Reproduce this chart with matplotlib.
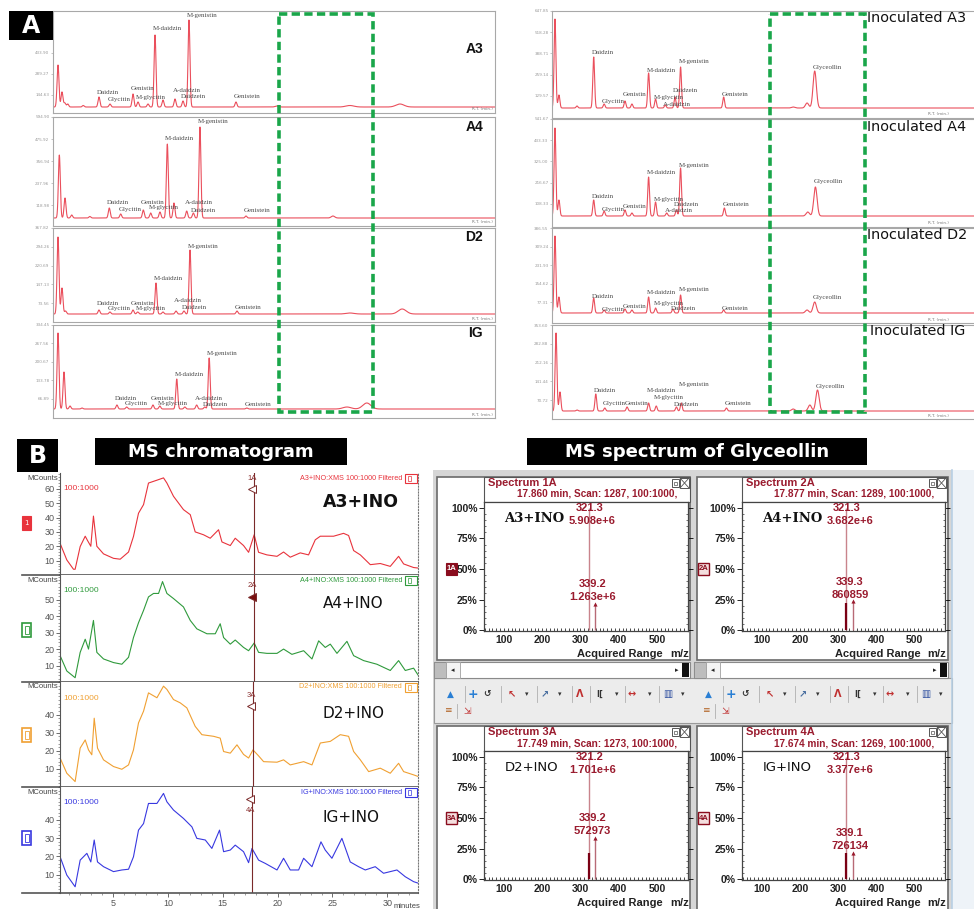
import matplotlib
matplotlib.use('Agg')
import matplotlib.pyplot as plt
import matplotlib.transforms as mtransforms
from matplotlib.patches import Rectangle
from matplotlib.ticker import MultipleLocator
import numpy as np

W, H = 974, 909

# ---------------- A: HPLC chromatograms ----------------
# retention time (min), peak height, peak name ('' = unlabelled)
a3_rt = [0.68, 1.22, 1.6, 2.0, 4.1, 6.24, 7.73, 10.86, 11.54, 12.9, 13.85, 14.93, 16.56, 17.65, 18.46, 24.84, 30.4, 40.3, 47.1]
a3_h = [42, 15, 4, 3, 1.5, 10, 3, 13, 5, 3, 72, 7, 8, 6, 87, 5, 1, 1.5, 3]
a3_name = ['', '', '', '', '', 'Daidzin', 'Glycitin', 'Genistin', 'M-glycitin', '', 'M-daidzin', '', 'A-daidzin',
           'Daidzein', 'M-genistin', 'Genistein', '', '', '']

a4_rt = [0.86, 1.63, 2.54, 5.0, 7.64, 9.19, 12.26, 13.26, 14.52, 15.52, 16.42, 18.15, 19.05, 19.95, 26.2, 38.0]
a4_h = [63, 20, 3, 1.5, 10, 4, 8, 5, 6, 74, 15, 7, 5, 91, 2, 2]
a4_name = ['', '', '', '', 'Daidzin', 'Glycitin', 'Genistin', 'M-glycitin', '', 'M-daidzin', '', 'A-daidzin',
           'Daidzein', 'M-genistin', 'Genistein', '']

d2_rt = [0.68, 1.22, 1.7, 6.24, 7.73, 10.86, 11.5, 13.98, 14.93, 16.69, 17.78, 18.6, 24.97, 40.3, 47.4]
d2_h = [77, 26, 3, 4, 2, 4, 2, 31, 2, 3, 3, 64, 3, 1, 5]
d2_name = ['', '', '', 'Daidzin', 'Glycitin', 'Genistin', 'M-glycitin', 'M-daidzin', '', 'A-daidzin', 'Daidzein',
           'M-genistin', 'Genistein', '', '']

ig_rt = [0.68, 1.49, 2.31, 3.94, 8.68, 10.0, 13.57, 14.5, 16.8, 17.9, 19.5, 20.6, 21.2, 26.3, 39.9, 42.6]
ig_h = [76, 37, 3, 1, 4, 2, 4, 3, 30, 2, 4, 2, 51, 1, 2, 6]
ig_name = ['', '', '', '', 'Daidzin', 'Glycitin', 'Genistin', 'M-glycitin', 'M-daidzin', '', 'A-daidzin',
           'Daidzein', 'M-genistin', 'Genistein', '', '']

ia3_rt = [0.43, 1.0, 3.6, 6.0, 7.5, 10.5, 11.5, 13.9, 14.9, 16.3, 17.7, 18.5, 24.7, 34.7, 36.7, 37.8]
ia3_h = [89, 13, 2, 51, 4, 7, 4, 35, 9, 3, 11, 41, 11, 1, 5, 37]
ia3_name = ['', '', '', 'Daidzin', 'Glycitin', 'Genistin', '', 'M-daidzin', 'M-glycitin', 'A-daidzin', 'Daidzein',
            'M-genistin', 'Genistein', '', '', 'Glyceollin']

ia4_rt = [0.43, 1.0, 6.0, 7.5, 10.5, 11.5, 13.9, 14.9, 16.5, 17.9, 18.5, 24.8, 36.8, 37.9]
ia4_h = [88, 16, 16, 5, 6, 3, 39, 14, 3, 6, 48, 8, 4, 29]
ia4_name = ['', '', 'Daidzin', 'Glycitin', 'Genistin', '', 'M-daidzin', 'M-glycitin', 'A-daidzin', 'Daidzein',
            'M-genistin', 'Genistein', '', 'Glyceollin']

id2_rt = [0.43, 1.0, 6.0, 7.5, 10.5, 11.5, 13.9, 14.9, 17.4, 18.5, 24.7, 36.7, 37.8]
id2_h = [77, 16, 15, 3, 4, 3, 16, 5, 4, 18, 3, 3, 11]
id2_name = ['', '', 'Daidzin', 'Glycitin', 'Genistin', '', 'M-daidzin', 'M-glycitin', 'Daidzein', 'M-genistin',
            'Genistein', '', 'Glyceollin']

iig_rt = [0.58, 1.15, 3.6, 6.3, 7.6, 10.8, 13.9, 15.0, 17.9, 18.6, 25.1, 34.7, 37.1, 38.2]
iig_h = [78, 19, 1, 17, 3, 4, 8, 5, 4, 8, 3, 2, 6, 21]
iig_name = ['', '', '', 'Daidzin', 'Glycitin', 'Genistin', 'M-daidzin', 'M-glycitin', 'Daidzein', 'M-genistin',
            'Genistein', '', '', 'Glyceollin']

hplc_titles = ['A3', 'A4', 'D2', 'IG']
hplc_ytick_labels = [
    ['144.63', '289.27', '433.90'],
    ['118.98', '237.96', '356.94', '475.92', '594.90'],
    ['73.56', '147.13', '220.69', '294.26', '367.82'],
    ['66.89', '133.78', '200.67', '267.56', '334.45'],
]
hplc_ytick_labels_inoc = [
    ['129.57', '259.14', '388.71', '518.28', '647.85'],
    ['108.33', '216.67', '325.00', '433.33', '541.67'],
    ['77.31', '154.62', '231.93', '309.24', '386.55'],
    ['70.72', '141.44', '212.16', '282.88', '353.60'],
]

# ---------------- B: MS chromatograms (MCounts vs minutes) ----------------
ms_a3_t = [0.16, 0.77, 1.38, 1.53, 1.99, 2.45, 2.66, 2.96, 3.20, 3.51, 4.12, 5.03, 5.64, 6.40, 6.85, 7.31, 7.77,
           8.22, 8.99, 9.59, 9.90, 10.50, 11.41, 12.03, 12.48, 13.24, 13.85, 14.61, 14.92, 15.68, 16.13, 16.89,
           17.35, 17.86, 18.26, 19.02, 19.94, 20.54, 21.15, 22.06, 22.82, 23.43, 23.89, 25.10, 26.01, 26.47,
           26.93, 27.54, 28.45, 29.36, 30.27, 31.03, 31.49, 32.40, 32.86]
ms_a3_v = [22, 10.5, 4, 4, 19.8, 27, 24, 20, 41, 20, 14.7, 11.6, 11, 16, 26.8, 43, 49, 64, 66, 67.6, 64, 54.8,
           45.5, 42, 30, 28, 25.6, 31.5, 23, 20.5, 25.6, 20.5, 15.8, 28, 15.8, 14, 13, 16, 12.4, 15.4, 14, 24.5,
           27, 27, 29, 27.5, 17, 14, 7.2, 8, 6, 13, 7.7, 5.2, 4.8]

ms_a4_t = [0.16, 0.77, 1.53, 1.99, 2.45, 2.75, 3.20, 3.51, 4.12, 5.03, 5.79, 6.40, 6.85, 7.31, 7.77, 8.22, 8.68,
           9.14, 9.50, 9.90, 10.50, 11.41, 12.03, 12.63, 13.55, 14.31, 14.76, 15.07, 15.68, 16.13, 16.89, 17.35,
           17.86, 18.26, 19.02, 19.94, 20.54, 21.30, 22.37, 23.13, 23.74, 24.34, 24.80, 25.41, 26.32, 26.93,
           27.84, 29.05, 30.27, 31.03, 31.64, 32.40, 32.86]
ms_a4_v = [16, 6.7, 2.6, 18, 26, 20, 37.4, 18, 14, 11.8, 10.8, 15, 27, 36, 43.5, 51.7, 53.8, 53.8, 61, 53.8, 50.7,
           45.6, 37.4, 32.3, 29.3, 29.3, 35.4, 27, 23, 25.5, 21, 19, 23.7, 18, 17.4, 17.4, 20, 16.8, 19, 14, 25,
           21, 23, 17.4, 24.7, 16, 13, 10.8, 7, 13, 7, 8.4, 3.7]

ms_d2_t = [0.16, 0.77, 1.53, 1.99, 2.45, 2.75, 3.05, 3.27, 3.57, 4.12, 5.03, 5.79, 6.40, 6.85, 7.31, 7.77, 8.22,
           8.99, 9.59, 9.90, 10.50, 11.11, 11.72, 12.48, 13.09, 14.16, 14.76, 15.07, 15.68, 16.29, 16.89, 17.35,
           17.75, 18.26, 18.72, 19.94, 20.54, 21.15, 22.37, 23.13, 23.89, 24.80, 25.71, 26.47, 26.93, 27.54,
           28.30, 29.36, 30.27, 31.03, 31.49, 32.40, 32.86]
ms_d2_v = [16, 7.6, 3, 21.5, 26, 20.5, 17.8, 38, 21.5, 15, 11.3, 9.8, 12.2, 20.5, 35.4, 41.9, 52, 49.3, 55.7, 53.9,
           48.3, 46.5, 43.7, 33.5, 28.9, 28, 27, 19.6, 18.7, 23.3, 18, 16, 20.5, 17.2, 14, 13.7, 15, 12.2, 14,
           12.2, 24.3, 25.2, 28.9, 28, 19.6, 15, 8.5, 10.4, 7.6, 13.1, 8.5, 6.7, 5.7]

ms_ig_t = [0.16, 0.77, 1.53, 1.99, 2.60, 2.96, 3.27, 3.57, 4.12, 5.03, 5.79, 6.40, 6.85, 7.31, 7.77, 8.22, 8.99,
           9.59, 9.90, 10.50, 11.41, 12.18, 12.63, 13.40, 14.00, 14.70, 15.07, 15.68, 16.13, 16.89, 17.35, 17.66,
           18.26, 18.87, 19.94, 20.54, 21.15, 21.91, 22.37, 23.13, 23.95, 24.34, 24.95, 25.86, 26.62, 27.38,
           27.99, 28.90, 29.66, 30.88, 31.64, 32.40, 32.86]
ms_ig_v = [19.8, 9.8, 3.4, 18, 21.7, 17, 29, 17, 14.4, 11.7, 12.6, 13, 19.8, 34.4, 38, 49, 49, 54.5, 49.9, 45.4,
           40.8, 36.2, 29.9, 29, 24.4, 34.4, 22.6, 23.5, 26.2, 22.6, 16.6, 24.4, 18, 16.2, 12.6, 19, 12.6, 12.6,
           19, 14.4, 28, 23.5, 19, 29.9, 17, 14.4, 12.6, 14.4, 10.8, 12.6, 8.9, 6.2, 5.3]

ms_samples = ['A3+INO', 'A4+INO', 'D2+INO', 'IG+INO']
ms_yticks = [[10, 20, 30, 40, 50, 60], [10, 20, 30, 40, 50], [10, 20, 30, 40], [10, 20, 30, 40]]
ms_xticks = [5, 10, 15, 20, 25, 30]

# ---------------- B: MS spectra of glyceollin ----------------
spec_tags = ['1A', '2A', '3A', '4A']
spec_rt = [17.860, 17.877, 17.749, 17.674]
spec_scan = [1287, 1289, 1273, 1269]
spec_base_mz = [321.3, 321.3, 321.2, 321.3]
spec_base_int = [5.908e6, 3.682e6, 1.701e6, 3.377e6]
spec_frag_mz = [339.2, 339.3, 339.2, 339.1]
spec_frag_int = [1.263e6, 860859, 572973, 726134]
spec_bar_pct = [0, 22, 21, 21]
spec_xticks = [100, 200, 300, 400, 500]
spec_yticks = [0, 25, 50, 75, 100]

# ---------------- layout / style ----------------
HPLC_RED = '#ea4f5c'
LBL_GRAY = '#4a4a4a'
GREEN_BOX = '#1aa64a'
DARK_RED = '#9a1b2e'
NARROW = ['Liberation Sans Narrow', 'Liberation Sans', 'DejaVu Sans']
MS_COLORS = ['#e8333c', '#2f9a3c', '#f0a032', '#3838e0']

# frame top, frame bottom, baseline offset (px)
left_frames = [(11, 113, 6), (117, 226, 8), (228, 322, 8), (325, 418, 9)]
right_frames = [(11, 118, 10), (119, 227, 11), (228, 323, 10), (325, 419, 8)]

left_label_y = [
    {'Daidzin': 15, 'Glycitin': 7, 'Genistin': 19, 'M-glycitin': 10, 'M-daidzin': 78, 'A-daidzin': 17,
     'Daidzein': 11, 'M-genistin': 91, 'Genistein': 10},
    {'Daidzin': 15, 'Glycitin': 9, 'Genistin': 16, 'M-glycitin': 11, 'M-daidzin': 79, 'A-daidzin': 15,
     'Daidzein': 8, 'M-genistin': 96, 'Genistein': 7},
    {'Daidzin': 10, 'Glycitin': 5, 'Genistin': 10, 'M-glycitin': 5, 'M-daidzin': 35, 'A-daidzin': 13,
     'Daidzein': 6, 'M-genistin': 67, 'Genistein': 6},
    {'Daidzin': 11, 'Glycitin': 5, 'Genistin': 11, 'M-glycitin': 5, 'M-daidzin': 34, 'A-daidzin': 11,
     'Daidzein': 5, 'M-genistin': 55, 'Genistein': 5},
]
right_label_y = [
    {'Daidzin': 55, 'Glycitin': 6, 'Genistin': 14, 'M-daidzin': 38, 'M-glycitin': 11, 'A-daidzin': 4,
     'Daidzein': 18, 'M-genistin': 46, 'Genistein': 14, 'Glyceollin': 40},
    {'Daidzin': 19, 'Glycitin': 7, 'Genistin': 10, 'M-daidzin': 43, 'M-glycitin': 17, 'A-daidzin': 5,
     'Daidzein': 11, 'M-genistin': 51, 'Genistein': 12, 'Glyceollin': 34},
    {'Daidzin': 17, 'Glycitin': 4, 'Genistin': 6, 'M-daidzin': 20, 'M-glycitin': 10, 'Daidzein': 5,
     'M-genistin': 23, 'Genistein': 4, 'Glyceollin': 15},
    {'Daidzin': 21, 'Glycitin': 8, 'Genistin': 8, 'M-daidzin': 21, 'M-glycitin': 14, 'Daidzein': 7,
     'M-genistin': 27, 'Genistein': 8, 'Glyceollin': 25},
]


def px_rect(x0, y0, x1, y1):
    return [x0 / W, 1 - y1 / H, (x1 - x0) / W, (y1 - y0) / H]


def hplc_curve(rt, h, grid):
    y = np.zeros_like(grid)
    for t0, h0 in zip(rt, h):
        s = 0.13 if t0 < 30 else (0.24 if t0 < 39 else 0.55)
        y += h0 * np.exp(-0.5 * ((grid - t0) / s) ** 2)
    return y


def fmt_int(v):
    if v >= 1e6:
        m, e = f'{v:.3e}'.split('e')
        return f'{m}e+{int(e)}'
    return f'{int(v)}'


fig = plt.figure(figsize=(W / 100, H / 100), dpi=100)
bg = fig.add_axes([0, 0, 1, 1], zorder=0)
bg.set_xlim(0, W)
bg.set_ylim(H, 0)
bg.axis('off')
top = fig.add_axes([0, 0, 1, 1], zorder=30)
top.set_xlim(0, W)
top.set_ylim(H, 0)
top.axis('off')


def draw_hplc(x0, x1, frame, xmax, rt, h, names, label_y, tick_labels, rt_text_x):
    y0, y1, base = frame
    ax = fig.add_axes(px_rect(x0, y0, x1, y1), zorder=2)
    grid = np.linspace(0, xmax, 4000)
    ax.plot(grid, hplc_curve(rt, h, grid), color=HPLC_RED, lw=0.8)
    ax.set_xlim(0, xmax)
    ytop = (y1 - y0) - base
    ax.set_ylim(-base, ytop)
    for t, nm in zip(rt, names):
        if nm:
            ax.text(t - 0.3, label_y[nm], nm, fontsize=5.0, family='Liberation Serif', color=LBL_GRAY,
                    ha='left', va='center')
    fracs = (0.125, 0.344, 0.563, 0.781, 1.0)[:len(tick_labels)]
    ax.set_yticks([ytop * f for f in fracs])
    ax.set_yticklabels(tick_labels, fontsize=3.0, color='#8a8a8a')
    ax.tick_params(axis='y', length=1.5, width=0.4, colors='#9a9a9a', pad=1)
    ax.set_xticks([])
    for sp in ax.spines.values():
        sp.set_color('#a8a8a8')
        sp.set_linewidth(0.8)
    ax.text(rt_text_x, 0.015, 'R.T. (min.)', transform=ax.transAxes, ha='right', va='bottom',
            fontsize=3.0, color='#777777')
    return ax


left_sets = [(a3_rt, a3_h, a3_name), (a4_rt, a4_h, a4_name), (d2_rt, d2_h, d2_name), (ig_rt, ig_h, ig_name)]
right_sets = [(ia3_rt, ia3_h, ia3_name), (ia4_rt, ia4_h, ia4_name), (id2_rt, id2_h, id2_name),
              (iig_rt, iig_h, iig_name)]

for i in range(4):
    rt, h, nm = left_sets[i]
    draw_hplc(53, 495, left_frames[i], 60.0, rt, h, nm, left_label_y[i], hplc_ytick_labels[i], 0.995)
    rt, h, nm = right_sets[i]
    draw_hplc(552, 990, right_frames[i], (990 - 552) / 6.95, rt, h, nm, right_label_y[i],
              hplc_ytick_labels_inoc[i], 0.905)

title_y_left = [49, 127, 237, 333]
title_y_right = [18, 127, 235, 331]
for i, name in enumerate(hplc_titles):
    top.text(483, title_y_left[i], name, ha='right', va='center', fontsize=10, fontweight='bold',
             family='Liberation Sans', color='#111111')
    top.text(867 if name != 'IG' else 870, title_y_right[i], 'Inoculated ' + name, ha='left', va='center',
             fontsize=10.4, family='DejaVu Sans', color='#111111')

# dashed green windows around the glyceollin region
for bx0, bx1 in ((279, 373), (770, 865)):
    top.add_patch(Rectangle((bx0, 14), bx1 - bx0, 398, fill=False, edgecolor=GREEN_BOX, lw=2.6,
                            linestyle=(0, (2.3, 1.2))))

# panel letters and section titles
top.add_patch(Rectangle((9, 11), 44, 29, facecolor='black', edgecolor='none'))
top.text(31, 26, 'A', color='white', fontsize=17, fontweight='bold', ha='center', va='center',
         family='DejaVu Sans')
top.add_patch(Rectangle((17, 439), 41, 33, facecolor='black', edgecolor='none'))
top.text(37.5, 456, 'B', color='white', fontsize=17, fontweight='bold', ha='center', va='center',
         family='DejaVu Sans')
top.add_patch(Rectangle((95, 438), 252, 27, facecolor='black', edgecolor='none'))
top.text(221, 452, 'MS chromatogram', color='white', fontsize=13, fontweight='bold', ha='center',
         va='center', family='DejaVu Sans')
top.add_patch(Rectangle((527, 438), 340, 27, facecolor='black', edgecolor='none'))
top.text(697, 452, 'MS spectrum of Glyceollin', color='white', fontsize=13, fontweight='bold',
         ha='center', va='center', family='DejaVu Sans')

# ---------------- B left: MS chromatograms ----------------
ms_rows = [(473, 575, 71), (575, 682, 65), (682, 787, 58), (787, 893, 58)]
ms_sets = [(ms_a3_t, ms_a3_v), (ms_a4_t, ms_a4_v), (ms_d2_t, ms_d2_v), (ms_ig_t, ms_ig_v)]
marker_y = [(0.95, 0.84), (0.90, 0.79), (0.876, 0.77), (0.78, 0.887)]
big_label_y = [502, 603, 713, 817]
box_cy = [523, 630, 735, 838]

for i, (y0, y1, ytop) in enumerate(ms_rows):
    col = MS_COLORS[i]
    t, v = ms_sets[i]
    ax = fig.add_axes(px_rect(60, y0, 418, y1), zorder=2)
    ax.plot(t, v, color=col, lw=0.8)
    ax.set_xlim(0.15, 32.8)
    ax.set_ylim(0, ytop)
    ax.spines['top'].set_visible(False)
    ax.spines['right'].set_linestyle(':')
    ax.spines['right'].set_color('#777777')
    ax.spines['left'].set_color('#555555')
    ax.spines['bottom'].set_color('#555555')
    ax.spines['bottom'].set_linewidth(1.2)
    ax.set_yticks(ms_yticks[i])
    ax.set_yticklabels([str(k) for k in ms_yticks[i]], fontsize=6.5, color='#333333', family=NARROW)
    ax.yaxis.set_minor_locator(MultipleLocator(2))
    ax.tick_params(axis='y', which='major', length=3, width=0.6, colors='#555555', pad=1)
    ax.tick_params(axis='y', which='minor', length=1.5, width=0.4, colors='#555555')
    if i < 3:
        ax.tick_params(axis='x', which='both', bottom=False, labelbottom=False)
    else:
        ax.set_xticks(ms_xticks)
        ax.set_xticklabels([str(k) for k in ms_xticks], fontsize=6.5, color='#333333', family=NARROW)
        ax.xaxis.set_minor_locator(MultipleLocator(1))
        ax.tick_params(axis='x', which='major', length=3, width=0.6, colors='#555555', pad=1)
        ax.tick_params(axis='x', which='minor', length=1.5, width=0.4, colors='#555555')

    # scan marker for the extracted spectrum
    trans = mtransforms.blended_transform_factory(ax.transData, ax.transAxes)
    ax.axvline(spec_rt[i], color='#7a2a2a', lw=0.8)
    ty, my = marker_y[i]
    ax.text(spec_rt[i] - 0.15, ty, spec_tags[i], transform=trans, fontsize=5.5, color='#8a3030',
            ha='center', va='center', family=NARROW)
    filled = (i == 1)
    ax.plot([spec_rt[i] - 0.2], [my], transform=trans, marker='<', ms=5.5,
            mfc='#7a1010' if filled else 'white', mec='#7a2a2a', mew=0.7, clip_on=False)

    ax.text(0.01, 1 - 16 / (y1 - y0), '100:1000', transform=ax.transAxes, fontsize=6, color=col,
            ha='left', va='center', family=NARROW)
    top.text(58, y0 + 5, 'MCounts', fontsize=5.5, color='#444444', ha='right', va='center', family=NARROW)
    top.text(402, y0 + 5, f'{ms_samples[i]}:XMS 100:1000 Filtered', fontsize=5.2, color=col, ha='right',
             va='center', family=NARROW)
    top.add_patch(Rectangle((405, y0 + 1), 12, 9, fill=False, edgecolor=col, lw=0.8))
    top.add_patch(Rectangle((408, y0 + 3), 3, 5, fill=False, edgecolor=col, lw=0.5))

    # channel selector box on the left
    if i == 0:
        top.add_patch(Rectangle((22, box_cy[i] - 7), 9, 14, facecolor=col, edgecolor=col, lw=0.8))
        top.text(26.5, box_cy[i], '1', fontsize=5, color='white', ha='center', va='center')
    else:
        top.add_patch(Rectangle((22, box_cy[i] - 7), 9, 14, facecolor='white', edgecolor=col, lw=1.2))
        top.add_patch(Rectangle((24.5, box_cy[i] - 4), 4, 8, facecolor='none', edgecolor=col, lw=0.6))

    # separator running into the left margin
    bg.plot([22, 60], [y1, y1], color='#555555', lw=1.2)

    weight = 'bold' if i == 0 else 'normal'
    top.text(323, big_label_y[i], ms_samples[i], fontsize=12.5 if i == 0 else 11, fontweight=weight,
             color='#111111', ha='left', va='center', family='DejaVu Sans')

top.text(394, 907, 'minutes', fontsize=5.5, color='#444444', ha='left', va='center', family=NARROW)

# ---------------- B right: spectrum windows ----------------
bg.add_patch(Rectangle((433, 470), 519, 439, facecolor='#d6d6d6', edgecolor='none'))
bg.add_patch(Rectangle((952, 470), 22, 439, facecolor='#eef3f8', edgecolor='none'))
bg.plot([952, 952], [470, 909], color='#b8cfe4', lw=1.2)

win_x = [(437, 690), (697, 948)]
ax_x = [(484, 688), (742, 945)]
tag_x = [446, 698]

# toolbar strip between the two rows of windows
bg.add_patch(Rectangle((434, 678), 518, 45, facecolor='#ececec', edgecolor='#9a9a9a', lw=0.8))
for col in range(2):
    wx = win_x[col][0] - (2 if col else 0)
    y_r1, y_r2 = 694, 711
    icons = [(13, '\u25b2', '#2a7fd4', 6.5), (36, '+', '#2a7fd4', 9), (50, '\u21ba', '#333333', 6.5),
             (75, '\u2196', '#c03030', 7), (90, '\u25be', '#333333', 5), (108, '\u2197', '#4a6fa0', 7),
             (123, '\u25be', '#333333', 5), (143, '\u039b', '#c03030', 7), (163, 'I[', '#333333', 6),
             (180, '\u25be', '#333333', 5), (195, '\u2194', '#c03030', 7), (213, '\u25be', '#333333', 5),
             (231, '\u25a5', '#3050a0', 7), (246, '\u25be', '#333333', 5)]
    for dx, glyph, c, fs in icons:
        top.text(wx + dx, y_r1, glyph, fontsize=fs, color=c, ha='center', va='center', fontweight='bold',
                 family='DejaVu Sans')
    for dx in (28, 64, 100, 135, 153, 188, 222):
        bg.plot([wx + dx, wx + dx], [686, 702], color='#b0b0b0', lw=0.6)
    top.text(wx + 11, y_r2, '\u2261', fontsize=6.5, color='#b06020', ha='center', va='center')
    top.text(wx + 30, y_r2, '\u21f2', fontsize=6.5, color='#c03030', ha='center', va='center')
    bg.plot([wx + 20, wx + 20], [704, 718], color='#b0b0b0', lw=0.6)

for i in range(4):
    col, row = i % 2, i // 2
    dy = 249 * row
    wx0, wx1 = win_x[col]
    ax0, ax1 = ax_x[col]
    head_top = 477 + dy
    ax_top = 502 + dy
    ax_bot = 631 + dy
    win_bot = 660 if row == 0 else 912

    bg.add_patch(Rectangle((wx0, head_top), wx1 - wx0, win_bot - head_top, facecolor='white',
                           edgecolor='#6a6a6a', lw=1.2))
    bg.add_patch(Rectangle((ax0, head_top), ax1 + 2 - ax0, ax_top - head_top, facecolor='white',
                           edgecolor='#555555', lw=0.8))

    ax = fig.add_axes(px_rect(ax0, ax_top, ax1, ax_bot), zorder=3)
    base_mz, frag_mz = spec_base_mz[i], spec_frag_mz[i]
    frag_pct = 100 * spec_frag_int[i] / spec_base_int[i]
    ax.vlines(base_mz, 0, 100, color='#c9848c', lw=1.0)
    if spec_bar_pct[i]:
        ax.vlines(base_mz, 0, spec_bar_pct[i], color='#7a0014', lw=1.6)
    ax.vlines(frag_mz, 0, frag_pct, color='#b86a76', lw=1.0)
    ax.plot([frag_mz], [frag_pct], marker='^', ms=3, color='#9a1b2e', mew=0)
    lab_kw = dict(fontsize=8, color=DARK_RED, fontweight='bold', ha='center', va='center', family=NARROW)
    ax.text(base_mz + 2, 100, f'{base_mz:.1f}', **lab_kw)
    ax.text(base_mz + 10, 89.5, fmt_int(spec_base_int[i]), **lab_kw)
    ax.text(frag_mz - 8, frag_pct + 16, f'{frag_mz:.1f}', **lab_kw)
    ax.text(frag_mz - 8, frag_pct + 5.5, fmt_int(spec_frag_int[i]), **lab_kw)

    ax.set_xlim(48, 581)
    ax.set_ylim(-0.8, 104.9)
    ax.set_xticks(spec_xticks)
    ax.set_xticklabels([str(k) for k in spec_xticks], fontsize=7.5, fontweight='bold', family=NARROW,
                       color='#222222')
    ax.xaxis.set_minor_locator(MultipleLocator(10))
    ax.tick_params(axis='x', which='both', direction='in', length=2.5, width=0.5, pad=3)
    ax.set_yticks(spec_yticks)
    ax.set_yticklabels([f'{k}%' for k in spec_yticks], fontsize=7.5, fontweight='bold', family=NARROW,
                       color='#222222')
    ax.yaxis.set_minor_locator(MultipleLocator(5))
    ax.tick_params(axis='y', which='major', direction='out', length=3.5, width=0.6, pad=1, right=True)
    ax.tick_params(axis='y', which='minor', direction='in', length=1.5, width=0.4, right=True)
    for sp in ax.spines.values():
        sp.set_color('#444444')
        sp.set_linewidth(0.9)

    sample_kw = dict(fontsize=9.5, color='#111111', ha='left', va='center')
    if i < 2:
        ax.text(0.1, 0.87, ms_samples[i], transform=ax.transAxes, fontweight='bold', family='DejaVu Serif',
                **sample_kw)
    else:
        ax.text(0.1, 0.87, ms_samples[i], transform=ax.transAxes, family='DejaVu Sans', **sample_kw)

    top.text(ax0 + 4, head_top + 6, f'Spectrum {spec_tags[i]}', fontsize=8, fontweight='bold',
             color=DARK_RED, ha='left', va='center', family=NARROW)
    top.text(ax1 - 11, head_top + 17, f'{spec_rt[i]:.3f} min, Scan: {spec_scan[i]}, 100:1000,', fontsize=7.2,
             fontweight='bold', color=DARK_RED, ha='right', va='center', family=NARROW)
    top.add_patch(Rectangle((ax1 - 16, head_top + 2), 7, 8, fill=False, edgecolor='#555555', lw=0.7))
    top.add_patch(Rectangle((ax1 - 14, head_top + 4.5), 3, 3, fill=False, edgecolor='#555555', lw=0.5))
    top.add_patch(Rectangle((ax1 - 8, head_top + 1), 9, 10, fill=False, edgecolor='#555555', lw=0.7))
    top.plot([ax1 - 8, ax1 + 1], [head_top + 1, head_top + 11], color='#555555', lw=0.6)
    top.plot([ax1 - 8, ax1 + 1], [head_top + 11, head_top + 1], color='#555555', lw=0.6)

    top.text((ax0 + ax1) / 2 + 34, ax_bot + 23, 'Acquired Range', fontsize=8, fontweight='bold',
             color='#222222', ha='center', va='center', family=NARROW)
    top.text(ax1 - 8, ax_bot + 23, 'm/z', fontsize=8, fontweight='bold', color='#222222', ha='center',
             va='center', family=NARROW)

    # selector tag next to the 50 % mark
    tx = tag_x[col]
    tag_y = ax_bot - 1 - 50 * 1.22
    if i == 0:
        top.add_patch(Rectangle((tx, tag_y - 6), 11, 12, facecolor='#8a0d1e', edgecolor='#8a0d1e', lw=0.8))
        top.text(tx + 5.5, tag_y, spec_tags[i], fontsize=5.5, color='white', fontweight='bold', ha='center',
                 va='center', family=NARROW)
    else:
        top.add_patch(Rectangle((tx, tag_y - 6), 11, 12, facecolor='#f4dede', edgecolor='#8a0d1e', lw=1.0))
        top.text(tx + 5.5, tag_y, spec_tags[i], fontsize=5.5, color='#8a0d1e', fontweight='bold',
                 ha='center', va='center', family=NARROW)

    # horizontal scroll bar under the upper windows
    if row == 0:
        bg.add_patch(Rectangle((wx0 - 3, 662), wx1 - wx0 + 3, 16, facecolor='white', edgecolor='#8a8a8a',
                               lw=0.8))
        bg.add_patch(Rectangle((wx0 - 3, 662), 12, 16, facecolor='#bdbdbd', edgecolor='#8a8a8a', lw=0.6))
        bg.add_patch(Rectangle((wx0 + 9, 662), 14, 16, facecolor='#f4f4f4', edgecolor='#a0a0a0', lw=0.6))
        bg.add_patch(Rectangle((wx1 - 8, 663), 7, 14, facecolor='#111111', edgecolor='none'))
        top.text(wx0 + 16, 670, '\u25c2', fontsize=5, color='#222222', ha='center', va='center')
        top.text(wx1 - 13, 670, '\u25b8', fontsize=5, color='#222222', ha='center', va='center')

fig.savefig('out.png', dpi=100)
plt.close(fig)
